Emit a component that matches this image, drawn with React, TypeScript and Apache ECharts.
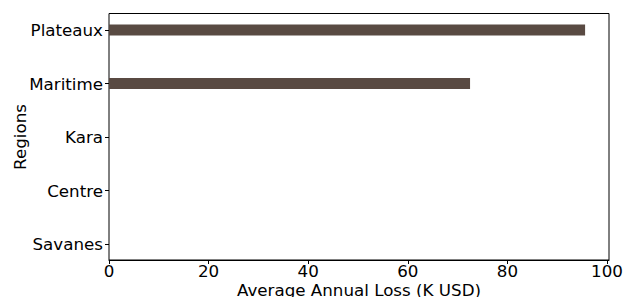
import React, { useEffect, useRef } from "react";
import * as echarts from "echarts";

const categories = ["Plateaux", "Maritime", "Kara", "Centre", "Savanes"];
const lossValues = [95.6, 72.5, 0, 0, 0];
const xTicks = [0, 20, 40, 60, 80, 100];
const xMax = 100.4;

export default function App() {
  const ref = useRef<HTMLDivElement>(null);
  useEffect(() => {
    document.body.style.margin = "0";
    const chart = echarts.init(ref.current!, null, { renderer: "svg" });
    const font = "DejaVu Sans";
    const fs = 16.7;
    chart.setOption({
      animation: false,
      backgroundColor: "#ffffff",
      textStyle: { fontFamily: font },
      grid: [
        { left: 109, top: 13.5, width: 500, height: 246.5, show: true, borderColor: "#000", borderWidth: 1, backgroundColor: "transparent", containLabel: false, outerBoundsMode: "none" },
        { left: 109, top: 3.25, width: 500, height: 267.5, containLabel: false, outerBoundsMode: "none" },
      ],
      xAxis: [
        {
          type: "value",
          gridIndex: 0,
          min: 0,
          max: xMax,
          position: "bottom",
          splitLine: { show: false },
          axisLine: { show: true, lineStyle: { color: "#000", width: 1 } },
          axisTick: { show: true, length: 4, customValues: xTicks, lineStyle: { color: "#000" } },
          axisLabel: { customValues: xTicks, fontSize: fs, lineHeight: 14, color: "#000", margin: 4, fontFamily: font },
          name: "Average Annual Loss (K USD)",
          nameLocation: "middle",
          nameGap: 21.5,
          nameMoveOverlap: false,
          nameTextStyle: { fontSize: fs, color: "#000", fontFamily: font },
        },
        {
          type: "value",
          gridIndex: 1,
          min: 0,
          max: xMax,
          show: false,
        },
      ],
      yAxis: [
        { type: "value", gridIndex: 0, show: false, min: 0, max: 1 },
        {
          type: "category",
          gridIndex: 1,
          data: categories,
          inverse: true,
          axisLine: { show: false },
          axisTick: { show: true, length: 4, alignWithLabel: true, lineStyle: { color: "#000" } },
          axisLabel: { fontSize: fs, color: "#000", margin: 6, fontFamily: font },
          splitLine: { show: false },
          name: "Regions",
          nameLocation: "middle",
          nameRotate: 90,
          nameGap: 81,
          nameMoveOverlap: false,
          nameTextStyle: { fontSize: fs, color: "#000", fontFamily: font },
        },
      ],
      series: [
        {
          type: "bar",
          xAxisIndex: 1,
          yAxisIndex: 1,
          data: lossValues,
          barWidth: 11,
          itemStyle: { color: "#594a42" },
        },
      ],
    });
    return () => chart.dispose();
  }, []);
  return <div ref={ref} style={{ width: 636, height: 297 }} />;
}
